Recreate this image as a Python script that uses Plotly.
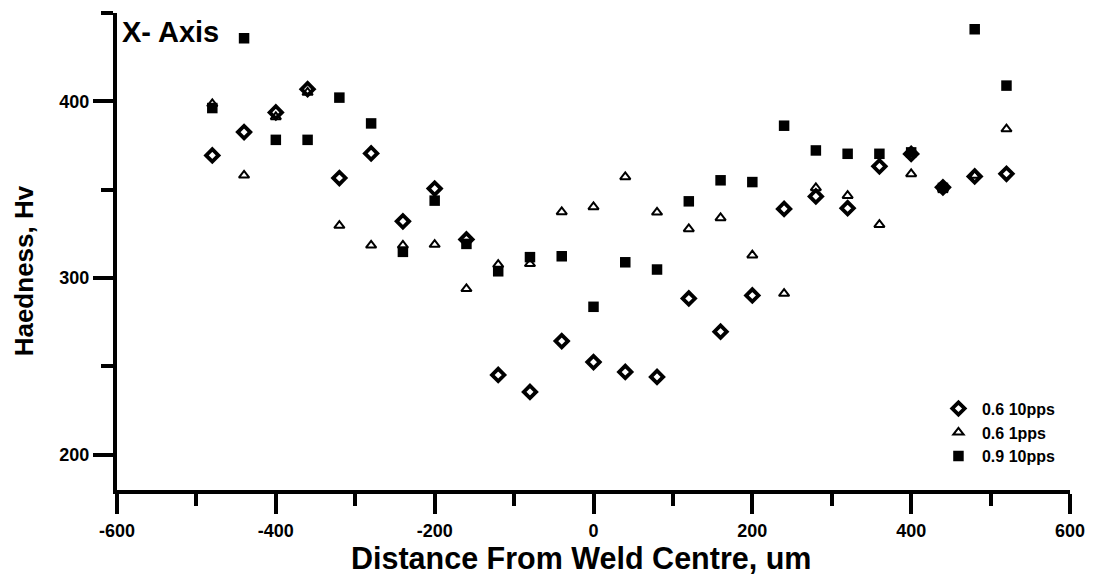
import plotly.graph_objects as go

# Distance from weld centre (um)
distance = [-480, -440, -400, -360, -320, -280, -240, -200, -160, -120, -80, -40, 0,
            40, 80, 120, 160, 200, 240, 280, 320, 360, 400, 440, 480, 520]

# Hardness (Hv) for each welding condition
hv_06_10pps = [369.4, 382.6, 393.7, 406.9, 356.6, 370.5, 332.1, 350.6, 321.8, 245.1, 235.5, 264.3, 252.4,
               246.8, 244.0, 288.4, 269.6, 290.1, 339.1, 346.2, 339.5, 363.2, 370.2, 351.3, 357.5, 359.0]
hv_06_1pps = [398.6, 358.1, 391.2, 405.0, 329.7, 318.5, 318.5, 318.9, 293.9, 307.6, 308.0, 337.4, 340.2,
              357.2, 337.2, 327.8, 334.0, 312.9, 291.2, 351.0, 346.6, 330.2, 358.9, 350.5, 358.0, 384.3]
hv_09_10pps = [396.2, 435.7, 378.2, 378.2, 402.1, 387.5, 314.8, 343.8, 319.3, 303.8, 311.8, 312.3, 283.7,
               308.9, 304.8, 343.4, 355.3, 354.3, 386.2, 372.2, 370.3, 370.3, 371.1, 351.0, 440.8, 408.9]

series_names = ["0.6 10pps", "0.6 1pps", "0.9 10pps"]

# Axis ticks (plain hyphen for negatives)
x_tickvals = [-600, -400, -200, 0, 200, 400, 600]
x_ticktext = ["-600", "-400", "-200", "0", "200", "400", "600"]
y_tickvals = [200, 300, 400]
y_ticktext = ["200", "300", "400"]

FONT = "Liberation Sans, Arial, sans-serif"


def bold(labels):
    return ["<b>%s</b>" % s for s in labels]


fig = go.Figure()
fig.add_trace(go.Scatter(
    x=distance, y=hv_06_10pps, mode="markers", name=series_names[0],
    marker=dict(symbol="diamond-open", size=9.5, color="black", line=dict(width=3.8, color="black")),
    legendgroup="a",
))
fig.add_trace(go.Scatter(
    x=distance, y=hv_06_1pps, mode="markers", name=series_names[1],
    marker=dict(symbol="triangle-up-open", size=9, color="black", line=dict(width=2, color="black")),
    legendgroup="b",
))
fig.add_trace(go.Scatter(
    x=distance, y=hv_09_10pps, mode="markers", name=series_names[2],
    marker=dict(symbol="square", size=10.5, color="black", line=dict(width=0)),
    legendgroup="c",
))

axis_common = dict(
    showline=True, linecolor="black", linewidth=4,
    ticks="outside", ticklen=20, tickwidth=4, tickcolor="black",
    showgrid=False, zeroline=False,
    tickfont=dict(family=FONT, size=18, color="black", weight="bold"),
)

fig.update_xaxes(
    range=[-600, 600], tickmode="array", tickvals=x_tickvals, ticktext=bold(x_ticktext),
    ticklabelstandoff=1,
    minor=dict(ticks="outside", ticklen=12, tickwidth=4, tickcolor="black",
               tick0=-500, dtick=100, showgrid=False),
    **axis_common,
)
fig.update_yaxes(
    range=[180, 450], tickmode="array", tickvals=y_tickvals, ticktext=bold(y_ticktext),
    minor=dict(ticks="outside", ticklen=12, tickwidth=4, tickcolor="black",
               dtick=50, tick0=200, showgrid=False),
    **axis_common,
)

fig.add_annotation(
    text="<b>Distance From Weld Centre, um</b>", xref="paper", yref="paper",
    x=0.4864, y=-0.1435, xanchor="center", yanchor="middle", showarrow=False,
    font=dict(family=FONT, size=30.5, color="black"),
)
fig.add_annotation(
    text="<b>Haedness, Hv</b>", xref="paper", yref="paper",
    x=-0.0973, y=0.459, xanchor="center", yanchor="middle", textangle=-90, showarrow=False,
    font=dict(family=FONT, size=26, color="black"),
)
fig.add_annotation(
    text="<b>X- Axis</b>", xref="paper", yref="paper",
    x=0.003, y=0.960, xanchor="left", yanchor="middle", showarrow=False,
    font=dict(family=FONT, size=29, color="black"),
)

fig.update_layout(
    width=1097, height=582,
    margin=dict(l=117, r=24, t=13, b=92),
    paper_bgcolor="white", plot_bgcolor="white",
    showlegend=True,
    legend=dict(
        x=0.8583, y=0.2063, xanchor="left", yanchor="top",
        bgcolor="rgba(0,0,0,0)", borderwidth=0,
        font=dict(family=FONT, size=16, color="black", weight="bold"),
        tracegroupgap=0, itemwidth=37,
    ),
)

fig.write_html("out.html")
